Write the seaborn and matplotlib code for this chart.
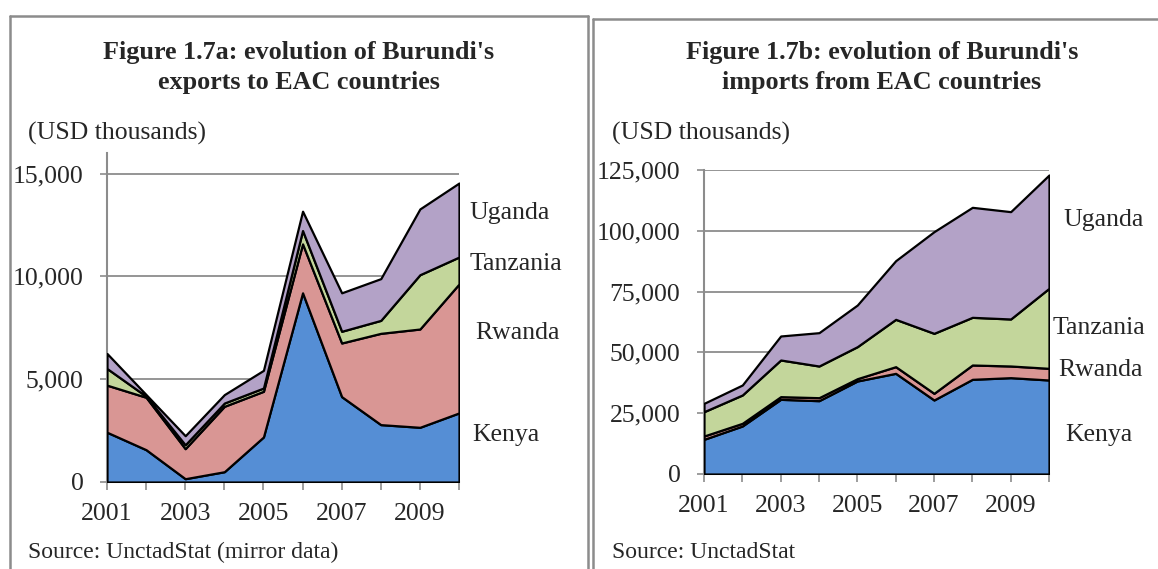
import numpy as np
import pandas as pd
import matplotlib
matplotlib.use("Agg")
import matplotlib.pyplot as plt
import matplotlib.ticker as mticker
from matplotlib.lines import Line2D
import seaborn as sns

years = [2001, 2002, 2003, 2004, 2005, 2006, 2007, 2008, 2009, 2010]
countries = ["Kenya", "Rwanda", "Tanzania", "Uganda"]

# Figure 1.7a: exports (USD thousands)
exp_kenya = [2420, 1570, 160, 500, 2190, 9200, 4150, 2790, 2660, 3360]
exp_rwanda = [2290, 2550, 1460, 3180, 2220, 2380, 2610, 4440, 4780, 6270]
exp_tanzania = [810, 50, 190, 160, 160, 650, 570, 630, 2640, 1310]
exp_uganda = [730, 80, 440, 410, 860, 940, 1870, 2030, 3200, 3600]

# Figure 1.7b: imports (USD thousands)
imp_kenya = [14250, 19740, 30700, 30150, 38240, 41390, 30430, 38930, 39610, 38650]
imp_rwanda = [1370, 1100, 1100, 1230, 960, 2740, 2740, 5890, 4800, 4800]
imp_tanzania = [10000, 11650, 15080, 13020, 13160, 19460, 24670, 19600, 19330, 32900]
imp_uganda = [3430, 4110, 9870, 13710, 17130, 24120, 41800, 45230, 44130, 46600]

x_tick_labels = ["2001", "2003", "2005", "2007", "2009"]

colors = ["#558ED5", "#D99694", "#C3D69B", "#B3A2C7"]

sns.set_style("white")
plt.rcParams["font.family"] = ["Liberation Serif", "DejaVu Serif"]

FS = 18.5
FT = 18.8

W, H = 1158, 569
fig = plt.figure(figsize=(W / 100, H / 100), dpi=100)


def fx(px):
    return px / W


def fy(py):
    return 1 - py / H


def make_panel(rect, series, ymax, yticks, label_pos):
    ax = fig.add_axes(rect)
    df = pd.DataFrame({"year": years})
    for c, s in zip(countries, series):
        df[c] = s
    ax.stackplot(df["year"], *[df[c] for c in countries], colors=colors,
                 edgecolor="black", linewidth=1.6, zorder=3)
    ax.set_xlim(2001, 2010)
    ax.set_ylim(0, ymax)
    ax.set_yticks(yticks)
    ax.yaxis.set_major_formatter(mticker.FuncFormatter(lambda v, p: f"{int(v):,}"))
    ax.set_xticks(years)
    ax.set_xticklabels([str(y) if str(y) in x_tick_labels else "" for y in years])
    ax.grid(axis="y", color="#8c8c8c", linewidth=1.3, zorder=0)
    ax.set_axisbelow(True)
    for side in ["top", "right"]:
        ax.spines[side].set_visible(False)
    for side in ["left", "bottom"]:
        ax.spines[side].set_color("#8c8c8c")
        ax.spines[side].set_linewidth(1.5)
    ax.tick_params(axis="y", direction="out", length=5, width=1.2, color="#8c8c8c",
                   pad=12, labelsize=FS, left=True)
    ax.tick_params(axis="x", direction="out", length=6, width=1.2, color="#8c8c8c",
                   pad=9, labelsize=FS, bottom=True)
    for lab, (px, py) in zip(countries, label_pos):
        fig.text(fx(px), fy(py), lab, ha="left", va="center", fontsize=FS)
    return ax


# Left panel
axL = make_panel([fx(107), fy(482), fx(459 - 107), (482 - 153) / H],
                 [exp_kenya, exp_rwanda, exp_tanzania, exp_uganda],
                 16000, [0, 5000, 10000, 15000],
                 [(472, 435), (475, 333), (470, 264), (469, 213)])

# Right panel
axR = make_panel([fx(704), fy(474), fx(1049 - 704), (474 - 170) / H],
                 [imp_kenya, imp_rwanda, imp_tanzania, imp_uganda],
                 125000, [0, 25000, 50000, 75000, 100000, 125000],
                 [(1065, 435), (1058, 370), (1053, 328), (1063, 220)])

# Titles
fig.text(fx(299), fy(52), "Figure 1.7a: evolution of Burundi's", ha="center", va="center",
         fontsize=FT, fontweight="bold")
fig.text(fx(299), fy(82), "exports to EAC countries", ha="center", va="center",
         fontsize=FT, fontweight="bold")
fig.text(fx(882), fy(53), "Figure 1.7b: evolution of Burundi's", ha="center", va="center",
         fontsize=FT, fontweight="bold")
fig.text(fx(882), fy(83), "imports from EAC countries", ha="center", va="center",
         fontsize=FT, fontweight="bold")

fig.text(fx(28), fy(133), "(USD thousands)", ha="left", va="center", fontsize=FS)
fig.text(fx(612), fy(133), "(USD thousands)", ha="left", va="center", fontsize=FS)

fig.text(fx(28), fy(552), "Source: UnctadStat (mirror data)", ha="left", va="center", fontsize=17)
fig.text(fx(612), fy(552), "Source: UnctadStat", ha="left", va="center", fontsize=17)

# Panel borders
bc = "#8c8c8c"
for xs, ys in [([10, 10], [16, 580]), ([10, 588], [16, 16]), ([588, 588], [16, 580]),
               ([593, 593], [19, 580]), ([593, 1170], [19, 19])]:
    fig.add_artist(Line2D([fx(x) for x in xs], [fy(y) for y in ys], color=bc,
                          linewidth=1.8, transform=fig.transFigure, clip_on=False))

fig.savefig("out.png", dpi=100)
